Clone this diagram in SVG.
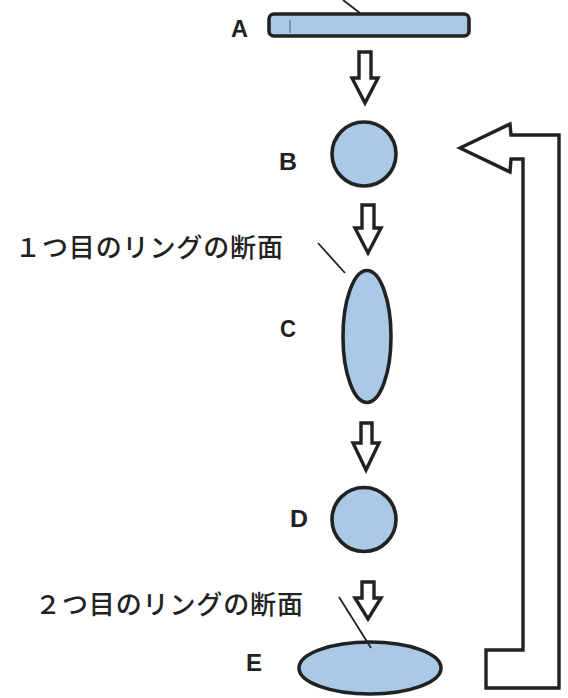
<svg xmlns="http://www.w3.org/2000/svg" width="568" height="698" viewBox="0 0 568 698">
<style>
.shape{fill:#a9c9e6;stroke:#222;stroke-width:3.6}
.arr{fill:#fff;stroke:#222;stroke-width:3.4;stroke-linejoin:miter}
.lbl{font-family:"Liberation Sans",Arial,sans-serif;font-size:23px;font-weight:bold;fill:#222}
.jp{font-family:"Noto Sans CJK JP","Noto Sans CJK SC",sans-serif;font-size:26px;font-weight:500;fill:#222}
.lead{stroke:#222;stroke-width:1.8;fill:none}
</style>
<rect width="568" height="698" fill="#fff"/>
<g id="A">
<rect class="shape" x="269" y="14" width="200" height="22" rx="5"/>
<line x1="290" y1="20" x2="290" y2="33" stroke="#557" stroke-width="1"/>
<text class="lbl" x="231" y="37" textLength="17" lengthAdjust="spacingAndGlyphs">A</text>
</g>
<g id="B">
<circle class="shape" cx="364" cy="154" r="32"/>
<text class="lbl" x="279" y="170" textLength="18" lengthAdjust="spacingAndGlyphs">B</text>
</g>
<g id="C">
<ellipse class="shape" cx="367" cy="336.5" rx="24" ry="66"/>
<text class="lbl" x="280" y="337" textLength="16" lengthAdjust="spacingAndGlyphs">C</text>
<text class="jp" x="15" y="257" textLength="268" lengthAdjust="spacing">１つ目のリングの断面</text>
</g>
<g id="D">
<circle class="shape" cx="364" cy="519.5" r="32"/>
<text class="lbl" x="290" y="527" textLength="18" lengthAdjust="spacingAndGlyphs">D</text>
</g>
<g id="E">
<ellipse class="shape" cx="370" cy="668" rx="71" ry="26"/>
<text class="lbl" x="246" y="671" textLength="16" lengthAdjust="spacingAndGlyphs">E</text>
<text class="jp" x="35" y="614" textLength="268" lengthAdjust="spacing">２つ目のリングの断面</text>
</g>
<g id="connectors">
<line class="lead" x1="343" y1="0" x2="360" y2="13"/>
<line class="lead" x1="318" y1="243" x2="345" y2="273"/>
<line class="lead" x1="339" y1="597" x2="371" y2="648"/>
<polygon class="arr" points="359,52 371,52 371,78 378,78 365,103 352,78 359,78"/>
<polygon class="arr" points="362,205 374,205 374,228 381,228 368,253 355,228 362,228"/>
<polygon class="arr" points="361,423 372,423 372,443 379,443 366,470 353,443 361,443"/>
<polygon class="arr" points="362,582 374,582 374,598 381,598 368,619 355,598 362,598"/>
<polygon class="arr" points="460,148 510,124 511,135 559,135 559,688 486,688 486,650 523,650 523,159 511,159 510,172"/>
</g>
</svg>
